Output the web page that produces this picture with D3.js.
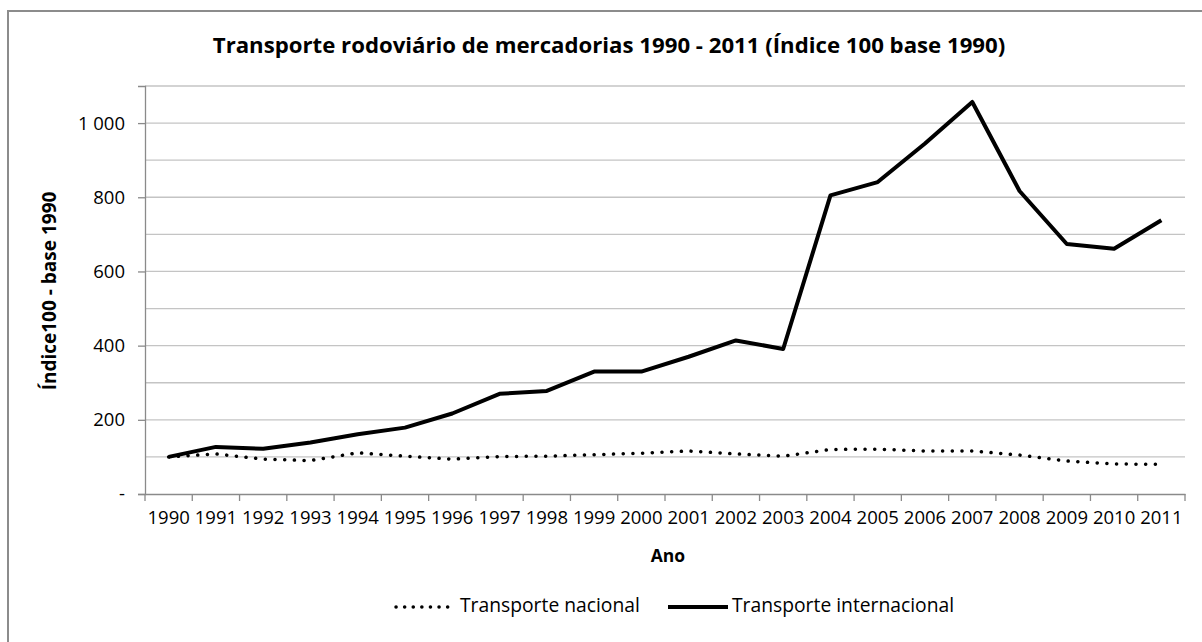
<!DOCTYPE html>
<html>
<head>
<meta charset="utf-8">
<script src="https://cdn.jsdelivr.net/npm/d3@7"></script>
<style>
  body { margin: 0; background: #fff; }
  text { font-family: "Open Sans", sans-serif; fill: #000; }
</style>
</head>
<body>
<svg id="chart"></svg>
<script>
// data
var anos = ["1990","1991","1992","1993","1994","1995","1996","1997","1998","1999","2000",
            "2001","2002","2003","2004","2005","2006","2007","2008","2009","2010","2011"];
var nacional = [100,108,94,90,111,102,94,101,102,106,110,116,108,102,120,121,116,116,105,89,81,80];
var internacional = [100,127,122,139,161,179,217,270,278,330,330,370,414,391,805,841,945,1057,817,674,661,738];
var yTicks = [0,200,400,600,800,1000];
var yGrid = [100,200,300,400,500,600,700,800,900,1000,1100];

var width = 1202, height = 642;
var svg = d3.select("#chart").attr("width", width).attr("height", height);

// outer frame of the chart
svg.append("rect")
  .attr("x", 8).attr("y", 11)
  .attr("width", width + 20).attr("height", height + 20)
  .attr("fill", "none").attr("stroke", "#8c8c8c").attr("stroke-width", 2);

var pLeft = 145, pRight = 1185, pTop = 86, pBottom = 494;

var x = d3.scaleBand().domain(anos).range([pLeft, pRight]);
var y = d3.scaleLinear().domain([0, 1100]).range([pBottom, pTop]);

// grid
svg.append("g")
  .selectAll("line")
  .data(yGrid)
  .enter()
  .append("line")
  .attr("x1", pLeft).attr("x2", pRight)
  .attr("y1", function(d){ return y(d); })
  .attr("y2", function(d){ return y(d); })
  .attr("stroke", "#c4c4c4").attr("stroke-width", 1.3);

// y axis
var yAxis = svg.append("g")
  .attr("transform", "translate(" + pLeft + ",0)")
  .call(d3.axisLeft(y).tickValues(yTicks).tickSize(7).tickPadding(13)
    .tickFormat(function(d){ return d == 0 ? "-" : d3.format(",")(d).replace(",", " "); }));
yAxis.select(".domain").attr("stroke", "#8a8a8a").attr("stroke-width", 1.3);
yAxis.selectAll(".tick line").attr("stroke", "#8a8a8a").attr("stroke-width", 1.3);
yAxis.selectAll("text").attr("font-size", 18.5).attr("font-family", "Open Sans").attr("fill", "#000");

// x axis, ticks between categories
var xAxis = svg.append("g")
  .attr("transform", "translate(0," + pBottom + ")")
  .call(d3.axisBottom(x).tickSize(0).tickPadding(17));
xAxis.select(".domain").attr("stroke", "#8a8a8a").attr("stroke-width", 1.3);
xAxis.selectAll("text").attr("font-size", 18.5).attr("font-family", "Open Sans").attr("fill", "#000");

var bounds = anos.map(function(d){ return x(d); }).concat([pRight]);
svg.append("g")
  .selectAll("line")
  .data(bounds)
  .enter()
  .append("line")
  .attr("x1", function(d){ return d; }).attr("x2", function(d){ return d; })
  .attr("y1", pBottom).attr("y2", pBottom + 7)
  .attr("stroke", "#8a8a8a").attr("stroke-width", 1.3);

// lines
var line = d3.line()
  .x(function(d, i){ return x(anos[i]) + x.bandwidth() / 2; })
  .y(function(d){ return y(d); });

svg.append("path")
  .attr("fill", "none").attr("stroke", "#000")
  .attr("stroke-width", 3.5).attr("stroke-linecap", "round")
  .attr("stroke-dasharray", "0.1 9.6")
  .attr("d", line(nacional));

svg.append("path")
  .attr("fill", "none").attr("stroke", "#000")
  .attr("stroke-width", 4).attr("stroke-linejoin", "round")
  .attr("d", line(internacional));

// titles
svg.append("text")
  .attr("x", 609).attr("y", 53)
  .attr("text-anchor", "middle")
  .attr("font-size", 22.2).attr("font-weight", "bold")
  .text("Transporte rodoviário de mercadorias 1990 - 2011 (Índice 100 base 1990)");

svg.append("text")
  .attr("transform", "translate(56,291) rotate(-90)")
  .attr("text-anchor", "middle")
  .attr("font-size", 19).attr("font-weight", "bold")
  .text("Índice100 - base 1990");

svg.append("text")
  .attr("x", 668).attr("y", 562)
  .attr("text-anchor", "middle")
  .attr("font-size", 17.5).attr("font-weight", "bold")
  .text("Ano");

// legend
var legend = [
  {title: "Transporte nacional", x1: 396, x2: 448, tx: 460, dash: "0.1 8.5", w: 3.5},
  {title: "Transporte internacional", x1: 668, x2: 728, tx: 732, dash: null, w: 4}
];
var leg = svg.append("g").selectAll("g").data(legend).enter().append("g");
leg.append("line")
  .attr("x1", function(d){ return d.x1; })
  .attr("x2", function(d){ return d.x2; })
  .attr("y1", 607).attr("y2", 607)
  .attr("stroke", "#000")
  .attr("stroke-width", function(d){ return d.w; })
  .attr("stroke-linecap", function(d){ return d.dash ? "round" : "butt"; })
  .attr("stroke-dasharray", function(d){ return d.dash; });
leg.append("text")
  .attr("x", function(d){ return d.tx; })
  .attr("y", 607)
  .attr("dominant-baseline", "middle")
  .attr("font-size", 19.3)
  .text(function(d){ return d.title; });
</script>
</body>
</html>
